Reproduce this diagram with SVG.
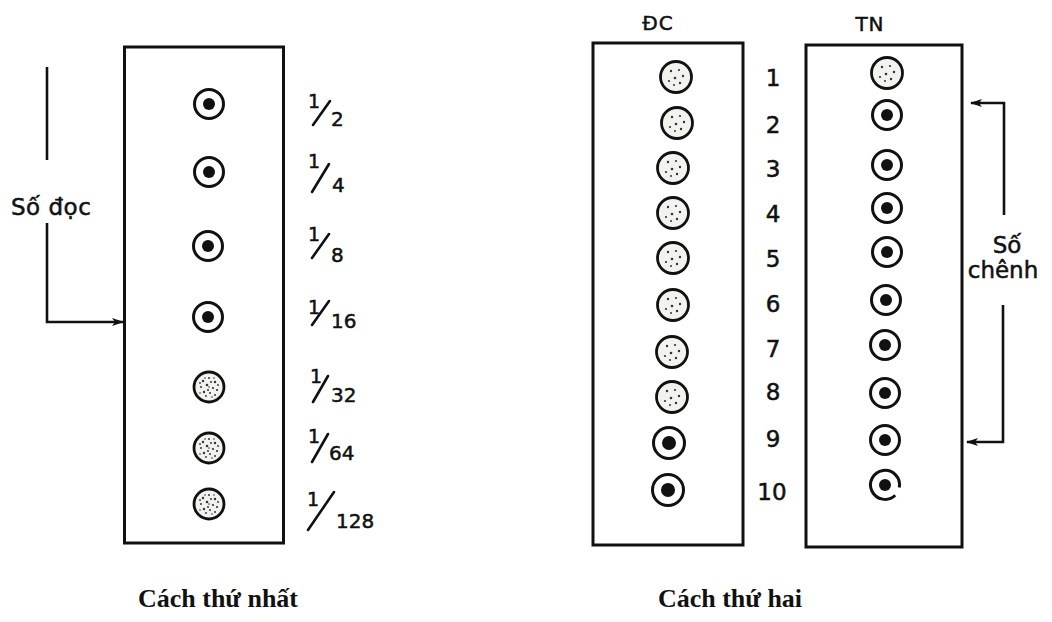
<svg xmlns="http://www.w3.org/2000/svg" width="1052" height="622" viewBox="0 0 1052 622">
<style>
.box{fill:none;stroke:#111;stroke-width:3}
.ring{fill:#fff;stroke:#111;stroke-width:3}
.dot{fill:#111}
.stip{fill:#f2f2ee;stroke:#111;stroke-width:2.8}
.ln{fill:none;stroke:#111;stroke-width:2.6}
.sl{stroke:#111;stroke-width:2.6;stroke-linecap:round}
.t{font-family:"DejaVu Sans","Liberation Sans",sans-serif;fill:#111;stroke:#111;stroke-width:0.5}
.num{font-size:19px}
.den{font-size:20px}
.lab{font-size:23px}
.cap{font-family:"Liberation Serif","DejaVu Serif",serif;font-weight:bold;font-size:26px;fill:#111}
</style>
<defs>
<marker id="ah" viewBox="0 0 12 10" refX="11" refY="5" markerWidth="13" markerHeight="10" markerUnits="userSpaceOnUse" orient="auto">
<path d="M0,1 L12,5 L0,9 L3,5 z" fill="#111"/>
</marker>
<g id="tgt"><circle r="14.5" class="ring"/><circle r="6" class="dot"/></g>
<g id="dense"><circle r="15" class="stip"/>
<g fill="#333"><circle cx="-6" cy="-6" r="1.2"/><circle cx="0" cy="-9" r="1"/><circle cx="6" cy="-5" r="1.2"/><circle cx="-8" cy="0" r="1"/><circle cx="-2" cy="-2" r="1.3"/><circle cx="4" cy="1" r="1.1"/><circle cx="8" cy="3" r="1.1"/><circle cx="-5" cy="5" r="1.2"/><circle cx="1" cy="6" r="1"/><circle cx="6" cy="8" r="1"/><circle cx="-1" cy="3" r="1"/><circle cx="2" cy="-5" r="1"/><circle cx="-9" cy="-4" r="0.9"/><circle cx="-3" cy="9" r="0.9"/><circle cx="9" cy="-2" r="0.9"/><circle cx="-4" cy="-9" r="0.8"/><circle cx="3" cy="10" r="0.8"/><circle cx="-9" cy="6" r="0.8"/><circle cx="5" cy="-9" r="0.8"/><circle cx="0" cy="0" r="0.8"/></g></g>
<g id="sparse"><circle r="15.5" class="stip"/>
<g fill="#333"><circle cx="-5" cy="-6" r="1.2"/><circle cx="3" cy="-7" r="1.1"/><circle cx="7" cy="-1" r="1.2"/><circle cx="-1" cy="1" r="1.3"/><circle cx="-7" cy="4" r="1.1"/><circle cx="4" cy="6" r="1.2"/><circle cx="-2" cy="8" r="1"/></g></g>
<g id="tgt2"><circle r="15.5" class="ring"/><circle r="7" class="dot"/></g>
</defs>

<g id="left-panel">
<rect class="box" x="124.5" y="47" width="159" height="496"/>
</g>
<g id="left-wells">
<use href="#tgt" x="209" y="104"/>
<use href="#tgt" x="209" y="172"/>
<use href="#tgt" x="208" y="246"/>
<use href="#tgt" x="208" y="317"/>
<use href="#dense" x="209" y="387"/>
<use href="#dense" x="209" y="448"/>
<use href="#dense" x="209" y="504"/>
</g>
<g id="left-fractions" class="t">
<text class="num" x="314" y="108" text-anchor="middle">1</text><line class="sl" x1="313" y1="125" x2="330" y2="101"/><text class="den" x="331" y="126">2</text>
<text class="num" x="314" y="168" text-anchor="middle">1</text><line class="sl" x1="312" y1="192" x2="329" y2="164"/><text class="den" x="332" y="192">4</text>
<text class="num" x="314" y="241" text-anchor="middle">1</text><line class="sl" x1="312" y1="258" x2="329" y2="234"/><text class="den" x="331" y="262">8</text>
<text class="num" x="314" y="314" text-anchor="middle">1</text><line class="sl" x1="312" y1="325" x2="329" y2="301"/><text class="den" x="331" y="328">16</text>
<text class="num" x="316" y="383" text-anchor="middle">1</text><line class="sl" x1="313" y1="402" x2="328" y2="376"/><text class="den" x="331" y="402">32</text>
<text class="num" x="314" y="443" text-anchor="middle">1</text><line class="sl" x1="312" y1="462" x2="328" y2="434"/><text class="den" x="329" y="460">64</text>
<text class="num" x="313" y="506" text-anchor="middle">1</text><line class="sl" x1="308" y1="530" x2="334" y2="492"/><text class="den" x="336" y="528">128</text>
</g>
<g id="so-doc-label">
<text class="t lab" x="11" y="215" letter-spacing="0.5">Số đọc</text>
</g>

<g id="dc-panel">
<rect class="box" x="593" y="43" width="150" height="502"/>
<text class="t" x="658" y="30" font-size="20" text-anchor="middle" letter-spacing="1">ĐC</text>
<use href="#sparse" x="676" y="77"/>
<use href="#sparse" x="677" y="123"/>
<use href="#sparse" x="673" y="168"/>
<use href="#sparse" x="673" y="213"/>
<use href="#sparse" x="673" y="258"/>
<use href="#sparse" x="673" y="305"/>
<use href="#sparse" x="672" y="352"/>
<use href="#sparse" x="672" y="397"/>
<use href="#tgt2" x="669" y="443"/>
<use href="#tgt2" x="668" y="490"/>
</g>
<g id="numbers" class="t lab" text-anchor="middle">
<text x="773" y="86">1</text>
<text x="773" y="133">2</text>
<text x="773" y="177">3</text>
<text x="773" y="222">4</text>
<text x="773" y="267">5</text>
<text x="773" y="312">6</text>
<text x="773" y="357">7</text>
<text x="773" y="400">8</text>
<text x="773" y="447">9</text>
<text x="772" y="500">10</text>
</g>
<g id="tn-panel">
<rect class="box" x="806" y="45" width="156" height="502"/>
<text class="t" x="870" y="31" font-size="20" text-anchor="middle" letter-spacing="1">TN</text>
<use href="#sparse" x="887" y="73"/>
<use href="#tgt" x="887" y="115"/>
<use href="#tgt" x="887" y="165"/>
<use href="#tgt" x="887" y="208"/>
<use href="#tgt" x="887" y="252"/>
<use href="#tgt" x="886" y="300"/>
<use href="#tgt" x="885" y="345"/>
<use href="#tgt" x="885" y="393"/>
<use href="#tgt" x="885" y="440"/>
<g transform="translate(885,485)"><path d="M10.2,10.2 A14.5,14.5 0 1 1 14.3,2.5" fill="#fff" stroke="#111" stroke-width="3"/><circle r="6" class="dot"/></g>
</g>
<g id="so-chenh-label" class="t lab" text-anchor="middle">
<text x="1007" y="253">Số</text>
<text x="1003" y="278">chênh</text>
</g>

<g id="connectors">
<path class="ln" d="M47,67 V160"/>
<path class="ln" d="M47,223 V322 H123" marker-end="url(#ah)"/>
<path class="ln" d="M1004,215 V103 H971" marker-end="url(#ah)"/>
<path class="ln" d="M1003,305 V442 H967" marker-end="url(#ah)"/>
</g>

<g id="captions">
<text class="cap" x="218" y="607" text-anchor="middle">Cách thứ nhất</text>
<text class="cap" x="730" y="607" text-anchor="middle">Cách thứ hai</text>
</g>
</svg>
